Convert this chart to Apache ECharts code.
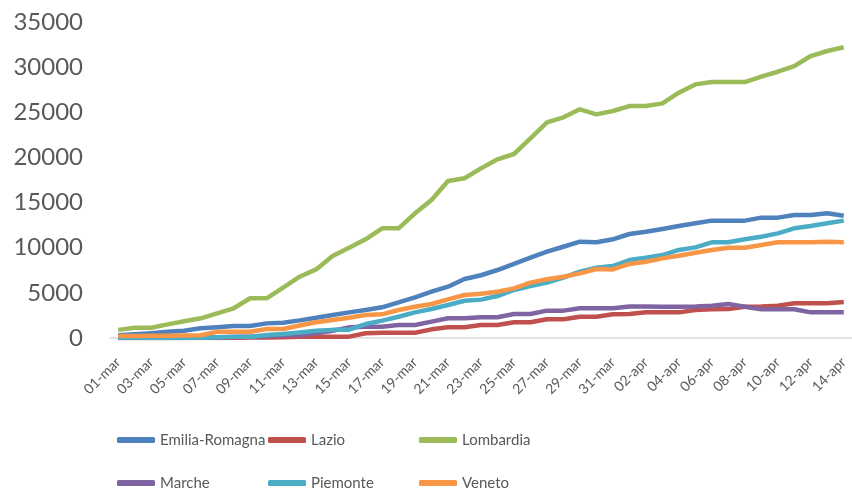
<!DOCTYPE html>
<html>
<head>
<meta charset="utf-8">
<script src="https://cdn.jsdelivr.net/npm/echarts@6/dist/echarts.min.js"></script>
<style>
  html, body { margin: 0; padding: 0; background: #fff; }
  #chart { width: 852px; height: 493px; }
</style>
</head>
<body>
<div id="chart"></div>
<script>
var days = [
  '01-mar', '02-mar', '03-mar', '04-mar', '05-mar', '06-mar', '07-mar', '08-mar', '09-mar', '10-mar',
  '11-mar', '12-mar', '13-mar', '14-mar', '15-mar', '16-mar', '17-mar', '18-mar', '19-mar', '20-mar',
  '21-mar', '22-mar', '23-mar', '24-mar', '25-mar', '26-mar', '27-mar', '28-mar', '29-mar', '30-mar',
  '31-mar', '01-apr', '02-apr', '03-apr', '04-apr', '05-apr', '06-apr', '07-apr', '08-apr', '09-apr',
  '10-apr', '11-apr', '12-apr', '13-apr', '14-apr'
]

var emiliaRomagna = [300, 420, 540, 700, 810, 1070, 1180, 1330, 1330, 1620,
  1700, 1950, 2250, 2550, 2840, 3100, 3400, 3950, 4500, 5130,
  5680, 6530, 6950, 7530, 8200, 8900, 9560, 10110, 10670, 10600,
  10930, 11520, 11770, 12070, 12400, 12700, 13000, 13000, 13000, 13330,
  13330, 13620, 13620, 13810, 13550]

var lazio = [0, 0, 0, 0, 0, 0, 0, 0, 50, 50,
  80, 150, 150, 150, 150, 520, 590, 590, 590, 960,
  1180, 1180, 1440, 1440, 1740, 1740, 2070, 2070, 2360, 2360,
  2620, 2660, 2840, 2840, 2840, 3100, 3180, 3200, 3470, 3500,
  3580, 3840, 3840, 3840, 3990]

var lombardia = [900, 1140, 1140, 1510, 1850, 2180, 2730, 3290, 4400, 4400,
  5570, 6790, 7600, 9080, 10000, 10930, 12150, 12150, 13810, 15280,
  17390, 17690, 18790, 19790, 20380, 22110, 23890, 24440, 25330, 24770,
  25140, 25690, 25690, 25990, 27170, 28090, 28350, 28350, 28350, 28940,
  29490, 30120, 31230, 31790, 32200]

var marche = [0, 0, 0, 10, 20, 40, 60, 100, 150, 200,
  270, 330, 520, 800, 1180, 1250, 1250, 1440, 1440, 1810,
  2180, 2180, 2300, 2300, 2660, 2660, 3030, 3030, 3290, 3290,
  3290, 3500, 3500, 3470, 3470, 3500, 3580, 3770, 3470, 3180,
  3180, 3180, 2840, 2840, 2840]

var piemonte = [0, 0, 0, 0, 0, 20, 80, 150, 150, 330,
  440, 600, 800, 900, 920, 1550, 1920, 2360, 2840, 3210,
  3650, 4130, 4250, 4650, 5320, 5760, 6130, 6680, 7340, 7790,
  7970, 8640, 8900, 9190, 9750, 10040, 10600, 10600, 10930, 11220,
  11590, 12150, 12400, 12700, 13000]

var veneto = [220, 220, 240, 260, 280, 300, 700, 700, 700, 1000,
  1000, 1380, 1740, 1990, 2250, 2550, 2620, 3100, 3470, 3770,
  4280, 4760, 4900, 5130, 5500, 6130, 6500, 6790, 7160, 7640,
  7600, 8200, 8450, 8820, 9120, 9450, 9750, 10000, 10000, 10300,
  10600, 10600, 10600, 10650, 10600]

var regions = ['Emilia-Romagna', 'Lazio', 'Lombardia', 'Marche', 'Piemonte', 'Veneto']
var values = [emiliaRomagna, lazio, lombardia, marche, piemonte, veneto]
var colors = ['#4F81BD', '#C0504D', '#9BBB59', '#8064A2', '#4BACC6', '#F79646']

var font = 'Lato, "Open Sans", sans-serif'

// one legend per item, laid out as 3 columns x 2 rows like the excel chart
function legendItem(name, i) {
  return {
    left: 117 + (i % 3) * 151,
    top: i < 3 ? 430 : 473,
    padding: 0,
    data: [name],
    icon: 'roundRect',
    itemWidth: 38,
    itemHeight: 6,
    textStyle: {
      color: '#595959',
      fontSize: 15,
      lineHeight: 20,
      fontFamily: font
    }
  }
}

var chart = echarts.init(document.getElementById('chart'), null, { renderer: 'canvas' })

chart.setOption({
  animation: false,
  color: colors,
  grid: {
    left: 110,
    top: 22,
    width: 745,
    height: 316,
    containLabel: false
  },
  legend: regions.map(legendItem),
  xAxis: {
    type: 'category',
    data: days,
    boundaryGap: true,
    axisLine: { lineStyle: { color: '#D9D9D9', width: 1.5 } },
    axisTick: { show: false },
    axisLabel: {
      rotate: 45,
      interval: 1,
      margin: 22,
      color: '#595959',
      fontSize: 14,
      fontFamily: font
    }
  },
  yAxis: {
    type: 'value',
    min: 0,
    max: 35000,
    interval: 5000,
    axisLine: { show: false },
    axisTick: { show: false },
    splitLine: { show: false },
    axisLabel: {
      margin: 27,
      color: '#595959',
      fontSize: 24,
      fontFamily: font,
      formatter: function (v) { return String(v) }
    }
  },
  series: regions.map(function (name, i) {
    return {
      name: name,
      type: 'line',
      data: values[i],
      showSymbol: false,
      symbol: 'none',
      lineStyle: { width: 4.5, color: colors[i], join: 'round' },
      itemStyle: { color: colors[i] }
    }
  })
})
</script>
</body>
</html>
